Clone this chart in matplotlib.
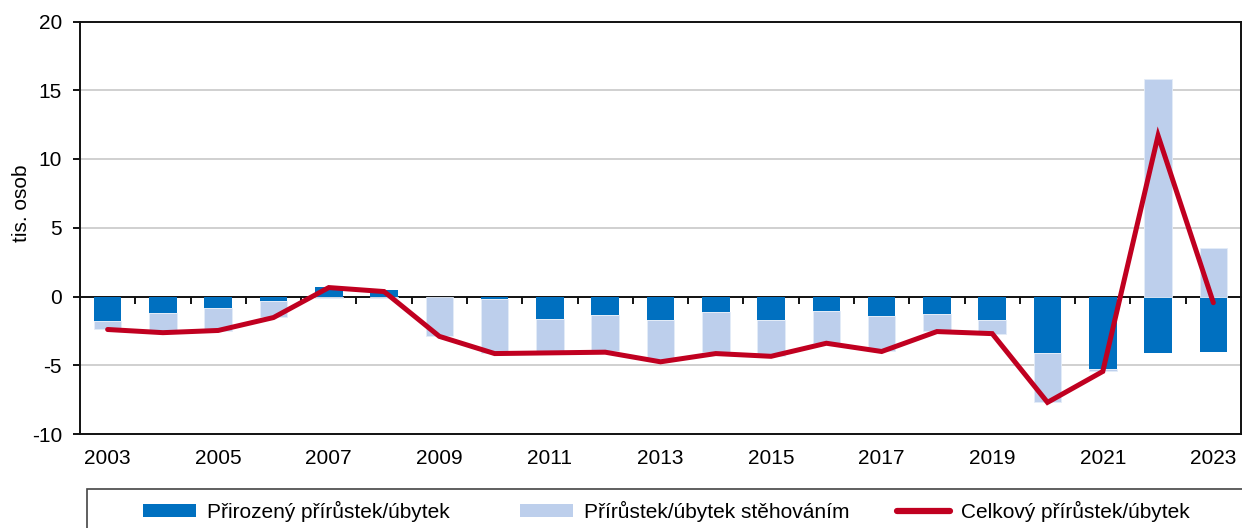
import numpy as np
import matplotlib
matplotlib.use("Agg")
import matplotlib.pyplot as plt
from matplotlib.patches import Patch, Rectangle
from matplotlib.lines import Line2D

plt.rcParams['font.family'] = ['Liberation Sans', 'DejaVu Sans']
plt.rcParams['axes.unicode_minus'] = False

years = list(range(2003, 2024))
natural = [-1.8, -1.2, -0.8, -0.3, 0.7, 0.45, -0.05, -0.2, -1.6, -1.35, -1.7,
           -1.15, -1.7, -1.05, -1.45, -1.25, -1.7, -4.1, -5.3, -4.1, -4.0]
migration = [-0.55, -1.45, -1.7, -1.2, -0.1, -0.1, -2.85, -3.9, -2.45, -2.6, -2.95,
             -2.9, -2.6, -2.3, -2.5, -1.25, -1.0, -3.55, -0.1, 15.8, 3.55]
total = [-2.4, -2.63, -2.47, -1.53, 0.65, 0.36, -2.9, -4.15, -4.1, -4.05, -4.75,
         -4.15, -4.35, -3.4, -4.0, -2.55, -2.7, -7.7, -5.45, 11.7, -0.45]
tick_labels = [str(y) for y in years[::2]]

labels = ["Přirozený přírůstek/úbytek", "Přírůstek/úbytek stěhováním",
          "Celkový přírůstek/úbytek"]

c_nat = '#0070C0'
c_mig = '#BDCFEC'
c_tot = '#C00020'

W, H = 1242, 528
fig = plt.figure(figsize=(W / 100, H / 100), dpi=100)
ax = fig.add_axes([80 / W, 1 - 434 / H, (1241 - 80) / W, (434 - 21.5) / H])

x = np.arange(len(years))
nat = np.array(natural)
mig = np.array(migration)
bottom = np.where(np.sign(nat) == np.sign(mig), nat, 0.0)

ax.bar(x, nat, width=0.5, color=c_nat, zorder=2)
ax.bar(x, mig, width=0.5, bottom=bottom, color=c_mig, edgecolor='#E4ECF8',
       linewidth=0.6, zorder=2)
ax.plot(x, total, color=c_tot, lw=3.6, solid_capstyle='round',
        solid_joinstyle='miter', zorder=5)

ax.set_xlim(-0.5, len(years) - 0.5)
ax.set_ylim(-10, 20)
ax.set_yticks(range(-10, 21, 5))
ax.set_xticks(x[::2])
ax.set_xticklabels(tick_labels)
ax.tick_params(axis='x', length=0, pad=11, labelsize=15)
ax.tick_params(axis='y', direction='out', length=5, width=1.3, pad=8, labelsize=15)
for s in ax.spines.values():
    s.set_linewidth(1.4)
    s.set_color('#111111')

for v in [-5, 5, 10, 15]:
    ax.axhline(v, color='#C4C4C4', lw=1.1, zorder=1)

sec = ax.secondary_xaxis(1 / 3)
sec.set_xticks(np.arange(0.5, len(years) - 1, 1))
sec.tick_params(axis='x', direction='out', length=5, width=1.3, labelbottom=False,
                labeltop=False)
for s in sec.spines.values():
    s.set_linewidth(1.4)
    s.set_color('#111111')

ax.set_ylabel('tis. osob', fontsize=15)
ax.yaxis.set_label_coords(-0.042, 0.56)

# legend frame
fig.patches.append(Rectangle((87 / W, -0.1), (1252 - 87) / W, 0.1 + (1 - 489 / H),
                             transform=fig.transFigure, fill=False,
                             edgecolor='#444444', lw=1.2))

handles = [Patch(facecolor=c_nat), Patch(facecolor=c_mig),
           Line2D([0], [0], color=c_tot, lw=4.5, solid_capstyle='round')]
xs = [143, 520, 897]
for h, lab, xp in zip(handles, labels, xs):
    fig.legend(handles=[h], labels=[lab], loc='upper left',
               bbox_to_anchor=(xp / W, 1 - 500.5 / H), frameon=False,
               borderpad=0, borderaxespad=0, handlelength=2.55,
               handleheight=0.58, handletextpad=0.5, fontsize=15)

fig.savefig('out.png', dpi=100)
